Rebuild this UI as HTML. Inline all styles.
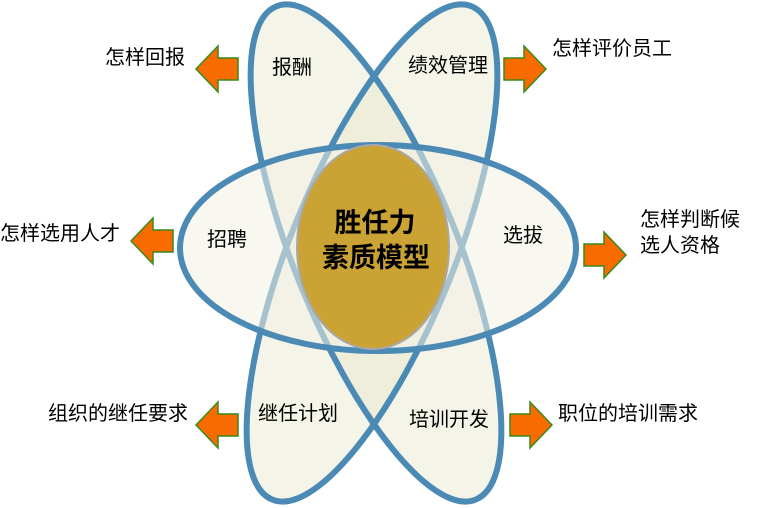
<!DOCTYPE html>
<html><head><meta charset="utf-8"><style>
html,body{margin:0;padding:0;background:#fff;}
svg{display:block;}
text{font-family:"Liberation Sans","Noto Sans CJK SC",sans-serif;fill:#000;}
</style></head><body>
<svg width="758" height="508" viewBox="0 0 758 508" xmlns="http://www.w3.org/2000/svg">
<defs>
<polygon id="la" points="0,0 22,-23 22,-11 42,-11 42,11 22,11 22,23" fill="#f76b00" stroke="#3a8a1a" stroke-width="1.5"/>
<polygon id="ra" points="0,0 -22,-23 -22,-11 -42,-11 -42,11 -22,11 -22,23" fill="#f76b00" stroke="#3a8a1a" stroke-width="1.5"/>
</defs>
<ellipse cx="376" cy="253" rx="82" ry="266" transform="rotate(-22 376 253)" fill="rgba(232,230,205,0.45)"/>
<ellipse cx="372" cy="253" rx="82" ry="266" transform="rotate(22 372 253)" fill="rgba(232,230,205,0.45)"/>
<ellipse cx="376" cy="253" rx="82" ry="266" transform="rotate(-22 376 253)" fill="none" stroke="#4a8ab5" stroke-width="6"/>
<ellipse cx="372" cy="253" rx="82" ry="266" transform="rotate(22 372 253)" fill="none" stroke="#4a8ab5" stroke-width="6"/>
<ellipse cx="378" cy="248" rx="198" ry="103" fill="rgba(242,241,228,0.55)" stroke="#4a8ab5" stroke-width="6"/>
<ellipse cx="373" cy="247" rx="76" ry="102" fill="#cba334" stroke="#a8a8a8" stroke-width="2"/>
<text x="375" y="232" font-size="27" font-weight="bold" text-anchor="middle">胜任力</text>
<text x="376" y="267" font-size="27" font-weight="bold" text-anchor="middle">素质模型</text>
<g font-size="20" text-anchor="middle">
<text x="292" y="74">报酬</text>
<text x="448" y="72">绩效管理</text>
<text x="227" y="246">招聘</text>
<text x="523" y="242">选拔</text>
<text x="298" y="420">继任计划</text>
<text x="449" y="426">培训开发</text>
</g>
<use href="#la" x="196" y="69"/>
<use href="#la" x="131" y="241"/>
<use href="#la" x="196" y="425"/>
<use href="#ra" x="546" y="69"/>
<use href="#ra" x="626" y="255"/>
<use href="#ra" x="552" y="425"/>
<g font-size="20">
<text x="105" y="64">怎样回报</text>
<text x="0" y="240">怎样选用人才</text>
<text x="48" y="420">组织的继任要求</text>
<text x="552" y="55">怎样评价员工</text>
<text x="640" y="226">怎样判断候</text>
<text x="640" y="252">选人资格</text>
<text x="558" y="420">职位的培训需求</text>
</g>
</svg>
</body></html>
